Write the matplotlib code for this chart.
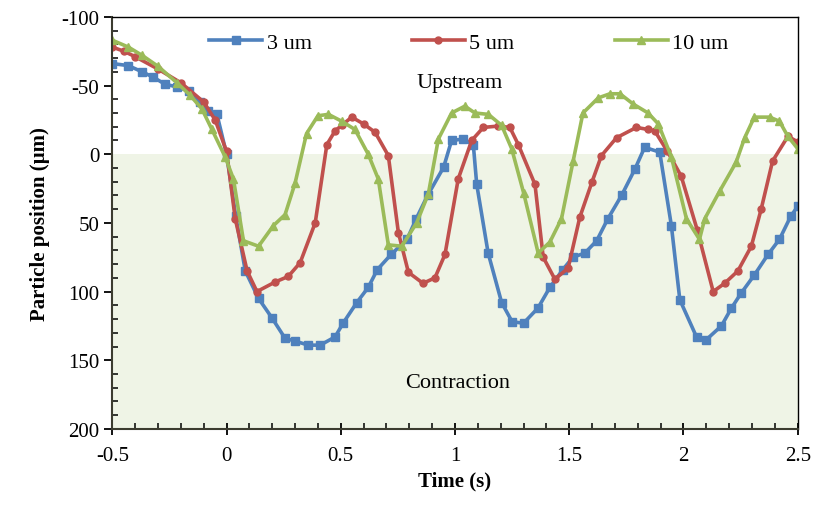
import matplotlib
matplotlib.use("Agg")
import matplotlib.pyplot as plt

plt.rcParams['font.family'] = ['Liberation Serif', 'DejaVu Serif']
plt.rcParams['axes.unicode_minus'] = False

# 3 um
t3 = [-0.5, -0.43, -0.37, -0.32, -0.27, -0.217, -0.166, -0.115, -0.08, -0.042, 0.0, 0.04,
      0.082, 0.14, 0.198, 0.256, 0.30, 0.357, 0.41, 0.475, 0.51, 0.57, 0.62, 0.66, 0.72,
      0.79, 0.83, 0.88, 0.95, 0.985, 1.035, 1.08, 1.095, 1.145, 1.204, 1.25, 1.30, 1.363,
      1.415, 1.472, 1.516, 1.568, 1.62, 1.669, 1.729, 1.787, 1.83, 1.896, 1.947, 1.984,
      2.057, 2.10, 2.166, 2.21, 2.253, 2.31, 2.37, 2.42, 2.47, 2.5]
p3 = [-66, -64.5, -60, -56, -51, -49, -46, -38, -31.6, -29, 0, 45,
      85, 105, 119, 134, 136, 139, 139, 133, 123, 108, 97, 84, 73,
      62, 47, 30, 9.5, -10, -11, -7, 22, 72, 108, 122, 123, 112,
      97, 84, 75, 72, 63, 47, 30, 11, -5, -1.5, 52, 106,
      133, 135, 125, 112, 101, 88, 73, 62, 45, 38]

# 5 um
t5 = [-0.5, -0.45, -0.4, -0.3, -0.2, -0.1, -0.05, 0.0, 0.038, 0.09, 0.133, 0.213, 0.27,
      0.322, 0.388, 0.439, 0.475, 0.504, 0.548, 0.6, 0.65, 0.708, 0.752, 0.796, 0.86,
      0.912, 0.956, 1.014, 1.073, 1.124, 1.19, 1.24, 1.277, 1.35, 1.386, 1.437, 1.495,
      1.546, 1.6, 1.641, 1.707, 1.794, 1.845, 1.874, 1.93, 1.99, 2.06, 2.13, 2.18, 2.238,
      2.297, 2.34, 2.39, 2.457, 2.5]
p5 = [-78, -75, -71, -62, -52, -38, -25, -2, 47, 85, 100, 93, 89,
      79, 50, -7, -17, -21, -27, -22, -16, 1, 57, 86, 94,
      90, 73, 18, -10, -19.5, -20.5, -19.5, -7, 22, 75, 91, 83,
      46, 20, 1, -12, -19.5, -18, -17, -2, 16, 55, 100, 94, 85,
      67, 40, 5, -13, -9]

# 10 um
t10 = [-0.5, -0.43, -0.37, -0.3, -0.217, -0.16, -0.108, -0.064, -0.006, 0.03, 0.074, 0.14,
       0.205, 0.256, 0.30, 0.35, 0.40, 0.446, 0.504, 0.562, 0.62, 0.664, 0.708, 0.767,
       0.832, 0.883, 0.927, 0.985, 1.043, 1.087, 1.146, 1.204, 1.248, 1.3, 1.364, 1.415,
       1.466, 1.517, 1.56, 1.627, 1.678, 1.722, 1.78, 1.845, 1.89, 1.947, 2.013, 2.07,
       2.093, 2.158, 2.23, 2.268, 2.31, 2.377, 2.42, 2.457, 2.5]
p10 = [-83, -78, -72, -64, -52, -43, -33, -18, 2, 18, 63, 67,
       52, 44, 21, -15, -28, -29, -24, -18, 0, 18, 66, 67,
       50, 29, -11, -30, -35, -30, -29, -21, -4, 28, 72, 64,
       47, 5, -30, -41, -44, -44, -36.5, -30, -22, 2, 47, 62,
       47, 27, 6, -12, -27, -27, -24, -13, -4]

fig = plt.figure(figsize=(8.14, 5.10), dpi=100)
ax = fig.add_axes([0.138, 0.157, 0.842, 0.808])

ax.axhspan(0, 200, color='#eff4e6', zorder=0, lw=0)

ax.plot(t3, p3, color='#4f81bd', lw=2.6, marker='s', ms=6, label='3 um')
ax.plot(t5, p5, color='#c0504d', lw=2.6, marker='o', ms=5, label='5 um')
ax.plot(t10, p10, color='#9bbb59', lw=2.6, marker='^', ms=6, label='10 um')

ax.set_xlim(-0.5, 2.5)
ax.set_ylim(200, -100)
ax.set_xticks([-0.5, 0, 0.5, 1, 1.5, 2, 2.5])
ax.set_xticklabels(['-0.5', '0', '0.5', '1', '1.5', '2', '2.5'])
ax.set_yticks([-100, -50, 0, 50, 100, 150, 200])
ax.set_xticks([i / 10 for i in range(-5, 26)], minor=True)
ax.set_yticks(list(range(-100, 201, 10)), minor=True)
ax.tick_params(axis='x', which='major', direction='inout', length=9, width=1.3, labelsize=15, pad=8)
ax.tick_params(axis='y', which='major', direction='out', length=6, width=1.3, labelsize=15)
ax.tick_params(which='minor', direction='in', length=4, width=1.1)

for s in ['left', 'bottom']:
    ax.spines[s].set_linewidth(1.5)
    ax.spines[s].set_color('#3c3c30')
for s in ['top', 'right']:
    ax.spines[s].set_linewidth(1.0)

ax.set_xlabel('Time (s)', fontsize=15, fontweight='bold', labelpad=4)
ax.set_ylabel('Particle position (µm)', fontsize=15, fontweight='bold', labelpad=8)

ax.text(1.02, -52, 'Upstream', fontsize=16, ha='center', va='center')
ax.text(1.01, 166, 'Contraction', fontsize=16, ha='center', va='center')

ax.legend(loc='upper center', bbox_to_anchor=(0.52, 1.0), ncol=3, frameon=False,
          fontsize=16, handlelength=2.4, columnspacing=4.5, handletextpad=0.2,
          borderaxespad=0.3)

fig.savefig('out.png', dpi=100)
